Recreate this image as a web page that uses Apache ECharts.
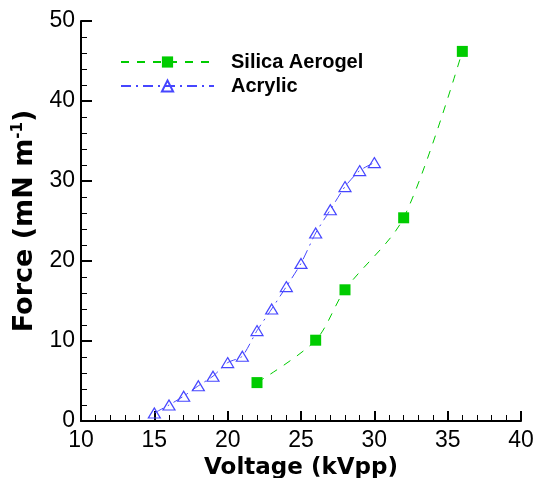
<!DOCTYPE html>
<html>
<head>
<meta charset="utf-8">
<script src="https://cdn.jsdelivr.net/npm/echarts@6/dist/echarts.min.js"></script>
<style>
  html, body { margin: 0; padding: 0; background: #fff; }
  #main { width: 537px; height: 478px; }
</style>
</head>
<body>
<div id="main"></div>
<script>
// 数据
var SILICA_X = [22, 26, 28, 32, 36]
var SILICA_Y = [4.8, 10.1, 16.4, 25.4, 46.2]
var ACRYLIC_X = [15, 16, 17, 18, 19, 20, 21, 22, 23, 24, 25, 26, 27, 28, 29, 30]
var ACRYLIC_Y = [1.0, 2.0, 3.1, 4.4, 5.6, 7.3, 8.1, 11.3, 14.0, 16.8, 19.7, 23.5, 26.4, 29.3, 31.3, 32.3]

var FONT = 'Liberation Sans, Arial, sans-serif'
var TITLE_FONT = 'DejaVu Sans, sans-serif'
var GREEN = '#00cc00'
var BLUE = '#4646ff'

function pairs(xs, ys) {
  return xs.map(function (v, k) {
    return [v, ys[k]]
  })
}

var chart = echarts.init(document.getElementById('main'))

var option = {
  backgroundColor: '#ffffff',
  animation: false,
  grid: {
    left: 81,
    right: 16,
    top: 21,
    bottom: 57,
    outerBoundsMode: 'none'
  },
  legend: {
    orient: 'vertical',
    left: 120,
    top: 52,
    padding: 0,
    itemWidth: 93,
    itemHeight: 14,
    itemGap: 4,
    textStyle: {
      fontFamily: FONT,
      fontSize: 20,
      fontWeight: 'bold',
      color: '#000',
      padding: [0, 0, 0, 12]
    },
    data: ['Silica Aerogel', 'Acrylic']
  },
  xAxis: {
    type: 'value',
    min: 10,
    max: 40,
    interval: 5,
    name: 'Voltage (kVpp)',
    nameLocation: 'middle',
    nameGap: 25,
    nameTextStyle: {
      fontFamily: TITLE_FONT,
      fontSize: 23,
      fontWeight: 'bold',
      color: '#000'
    },
    axisLine: {
      lineStyle: { color: '#000', width: 2 }
    },
    axisTick: {
      inside: true,
      length: 10,
      lineStyle: { color: '#000', width: 2 }
    },
    minorTick: {
      show: true,
      splitNumber: 5,
      length: 6,
      lineStyle: { color: '#000', width: 1 }
    },
    axisLabel: {
      fontFamily: FONT,
      fontSize: 23,
      color: '#000',
      margin: 8
    },
    splitLine: { show: false }
  },
  yAxis: {
    type: 'value',
    min: 0,
    max: 50,
    interval: 10,
    name: '{a|Force (mN m}{b|-1}{a|)}',
    nameLocation: 'middle',
    nameGap: 35,
    nameTextStyle: {
      padding: [0, 0, 0, 0],
      rich: {
        a: {
          fontFamily: TITLE_FONT,
          fontSize: 27,
          fontWeight: 'bold',
          color: '#000'
        },
        b: {
          fontFamily: TITLE_FONT,
          fontSize: 15,
          fontWeight: 'bold',
          color: '#000',
          padding: [0, 0, 13, 0]
        }
      }
    },
    axisLine: {
      show: true,
      lineStyle: { color: '#000', width: 2 }
    },
    axisTick: {
      show: true,
      inside: true,
      length: 11,
      lineStyle: { color: '#000', width: 2 }
    },
    minorTick: {
      show: true,
      splitNumber: 5,
      length: 6,
      lineStyle: { color: '#000', width: 1 }
    },
    axisLabel: {
      fontFamily: FONT,
      fontSize: 23,
      color: '#000',
      margin: 6
    },
    splitLine: { show: false }
  },
  series: [{
      name: 'Silica Aerogel',
      type: 'line',
      data: pairs(SILICA_X, SILICA_Y),
      smooth: 0.3,
      symbol: 'rect',
      symbolSize: 11,
      itemStyle: { color: GREEN },
      lineStyle: { color: GREEN, width: 1, type: [8, 8] }
    },
    {
      name: 'Acrylic',
      type: 'line',
      data: pairs(ACRYLIC_X, ACRYLIC_Y),
      smooth: 0.2,
      symbol: 'triangle',
      symbolSize: [12, 10],
      itemStyle: { color: 'rgba(255,255,255,0)', borderColor: BLUE, borderWidth: 1.2 },
      lineStyle: { color: BLUE, width: 1, type: [10, 5, 2, 5] }
    }
  ]
}

chart.setOption(option)
</script>
</body>
</html>
